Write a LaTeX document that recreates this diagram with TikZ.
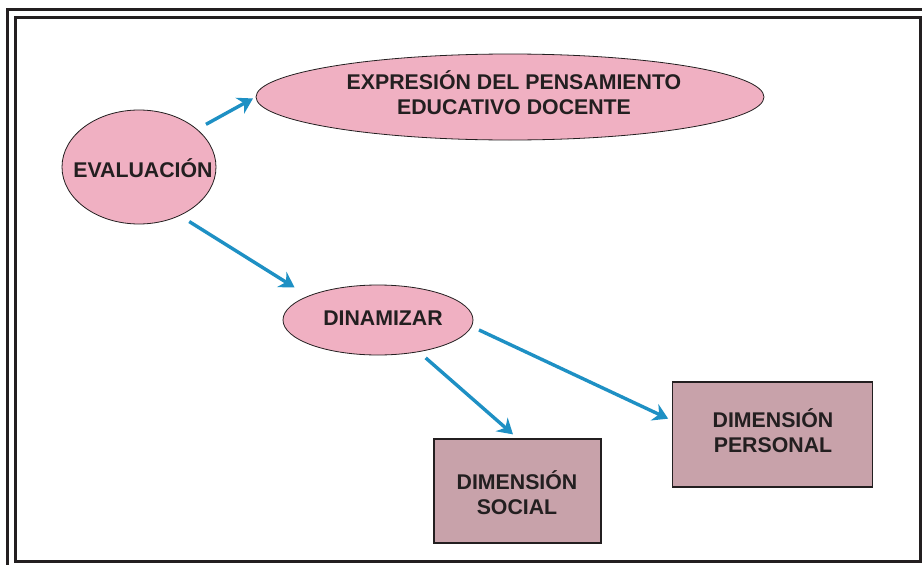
\documentclass[tikz,border=0pt]{standalone}
\usepackage{fontspec}
\setmainfont{Liberation Sans}
\usetikzlibrary{shapes.geometric,arrows.meta}
\definecolor{ellpink}{HTML}{F0B0C2}
\definecolor{boxmauve}{HTML}{C8A2AA}
\definecolor{arrblue}{HTML}{1E90C4}
\definecolor{inkdark}{HTML}{231F20}
\tikzset{
  ell/.style={ellipse, draw=inkdark, line width=0.8pt, fill=ellpink, inner sep=0pt},
  dimbox/.style={rectangle, draw=inkdark, line width=1.4pt, fill=boxmauve, inner sep=0pt},
  lbl/.style={inner sep=0pt, font=\fontsize{21.3}{25}\selectfont\bfseries, text=inkdark, align=center},
  conn/.style={draw=arrblue, line width=3.4pt, -{Stealth[length=15pt,width=18pt,inset=5pt]}},
  frameline/.style={draw=inkdark, line width=3pt}
}
\begin{document}
\begin{tikzpicture}[x=1pt,y=-1pt]
\useasboundingbox (0,0) rectangle (922,565);
\begin{scope}
\clip (0,0) rectangle (922,565);
\fill[white] (0,0) rectangle (922,565);
\draw[frameline] (7.5,9.5) rectangle (930,575);
\draw[frameline] (15,17) rectangle (920,561.5);
\end{scope}

\node[ell, minimum width=154pt, minimum height=114pt] (eval) at (139,167) {};
\node[ell, minimum width=508pt, minimum height=86pt] (expr) at (510,97) {};
\node[ell, minimum width=190pt, minimum height=70pt] (dinam) at (378,320) {};
\node[dimbox, minimum width=167pt, minimum height=104pt] (social) at (517.5,491) {};
\node[dimbox, minimum width=200pt, minimum height=105pt] (personal) at (772.5,434.5) {};

\node[lbl] (evaltxt) at (143,168) {EVALUACIÓN};
\node[lbl] (exprtxt) at (514,93) {EXPRESIÓN DEL PENSAMIENTO\\EDUCATIVO DOCENTE};
\node[lbl] (dinamtxt) at (383,318) {DINAMIZAR};
\node[lbl] (socialtxt) at (517,493) {DIMENSIÓN\\SOCIAL};
\node[lbl] (personaltxt) at (773,431) {DIMENSIÓN\\PERSONAL};

\draw[conn, shorten <=10pt, shorten >=3pt] (eval.33) -- (expr.west);
\draw[conn, shorten <=11pt, shorten >=16pt] (eval.-50) -- (dinam.161);
\draw[conn, shorten <=9pt, shorten >=6pt] (dinam.-38) -- (social.north);
\draw[conn, shorten <=8pt, shorten >=4pt] (dinam.-4) -- (personal.172);
\end{tikzpicture}
\end{document}
